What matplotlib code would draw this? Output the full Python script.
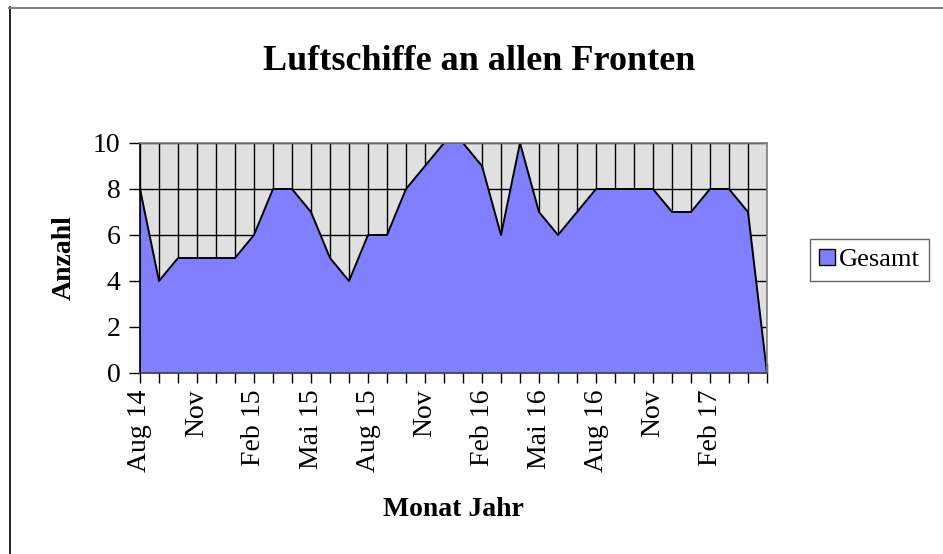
import matplotlib
matplotlib.use("Agg")
import matplotlib.pyplot as plt
from matplotlib.patches import Patch
from matplotlib.lines import Line2D

# ---- data (monthly, Aug 1914 .. May 1917) ----
months = list(range(34))
gesamt = [8, 4, 5, 5, 5, 5, 6, 8, 8, 7, 5, 4, 6, 6, 8, 9, 10,
          10, 9, 6, 10, 7, 6, 7, 8, 8, 8, 8, 7, 7, 8, 8, 7, 0]
tick_labels = ["Aug 14", "Nov", "Feb 15", "Mai 15", "Aug 15", "Nov",
               "Feb 16", "Mai 16", "Aug 16", "Nov", "Feb 17"]
y_ticks = [0, 2, 4, 6, 8, 10]

plt.rcParams["font.family"] = ["Liberation Serif", "DejaVu Serif"]

W, H = 943, 554
fig = plt.figure(figsize=(W / 100, H / 100), dpi=100)
ax = fig.add_axes([140 / W, 1 - 373 / H, (767 - 140) / W, (373 - 143) / H])

ax.set_facecolor("#e0e0e0")

# grid behind the area
ax.vlines(months, 0, 10, colors="black", lw=1, zorder=1)
ax.hlines(y_ticks[1:], 0, 33, colors="black", lw=1, zorder=1)

ax.fill_between(months, gesamt, color="#8080ff", lw=0, zorder=2)
ax.plot(months, gesamt, color="black", lw=1.4, zorder=2.2)

ax.set_xlim(0, 33)
ax.set_ylim(0, 10)

labels = [""] * len(months)
for i, lab in enumerate(tick_labels):
    labels[i * 3] = lab
ax.set_xticks(months)
ax.set_xticklabels(labels, rotation=90, fontsize=20)
ax.tick_params(axis="x", direction="inout", length=14, width=1, color="black", pad=5)
ax.set_yticks(y_ticks)
ax.set_yticklabels([str(v) for v in y_ticks], fontsize=20)
ax.tick_params(axis="y", direction="out", length=8, width=1, color="black", pad=6)

for side in ("top", "right"):
    ax.spines[side].set_color("#808080")
    ax.spines[side].set_linewidth(1.2)
for side in ("left", "bottom"):
    ax.spines[side].set_color("black")
    ax.spines[side].set_linewidth(1.2)
ax.spines["bottom"].set_color("#404040")

ax.set_xlabel("Monat Jahr", fontsize=20, fontweight="bold", labelpad=18)
ax.set_ylabel("Anzahl", fontsize=20, fontweight="bold", labelpad=12)

fig.text(479 / W, 1 - 62 / H, "Luftschiffe an allen Fronten", fontsize=26,
         fontweight="bold", ha="center", va="center")

leg = fig.legend(handles=[Patch(facecolor="#8080ff", edgecolor="black", lw=1, label="Gesamt")],
                 loc="center left", bbox_to_anchor=(810 / W, 1 - 260 / H),
                 fontsize=19, frameon=True, fancybox=False, handlelength=0.6,
                 handleheight=0.6, handletextpad=0.15, borderpad=0.35,
                 borderaxespad=0)
leg.get_frame().set_edgecolor("#404040")
leg.get_frame().set_linewidth(1)

# outer chart border
fig.add_artist(Line2D([9.5 / W, 9.5 / W], [0, 1 - 7 / H], color="black", lw=1.2,
                      transform=fig.transFigure))
fig.add_artist(Line2D([9 / W, 1], [1 - 7.5 / H, 1 - 7.5 / H], color="#808080", lw=1.5,
                      transform=fig.transFigure))

fig.savefig("out.png", dpi=100)
